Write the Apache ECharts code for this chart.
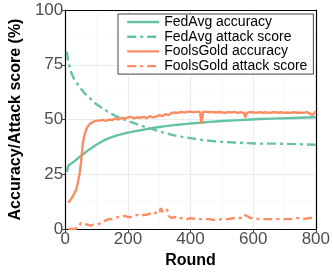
<!DOCTYPE html>
<html>
<head>
<meta charset="utf-8">
<script src="https://cdn.jsdelivr.net/npm/echarts@6/dist/echarts.min.js"></script>
<style>html,body{margin:0;padding:0;background:#fff;}#c{width:333px;height:274px;}</style>
</head>
<body>
<div id="c"></div>
<script>
var xTicks = [0, 200, 400, 600, 800];
var yTicks = [0, 25, 50, 75, 100];
var seriesNames = ['FedAvg accuracy', 'FedAvg attack score', 'FoolsGold accuracy', 'FoolsGold attack score'];

var fedAccRounds = [5, 10, 20, 30, 40, 50, 60, 70, 80, 90, 100, 120, 140, 160, 180, 200, 220, 240, 260, 280, 300, 320, 340, 360, 380, 400, 420, 440, 460, 480, 500, 540, 580, 620, 660, 700, 750, 800];
var fedAccValues = [26, 29, 30, 31, 32.3, 33.4, 34.5, 35.6, 36.6, 37.6, 38.6, 40.2, 41.5, 42.5, 43.3, 44, 44.6, 45.1, 45.6, 46.1, 46.6, 47, 47.3, 47.6, 47.9, 48.2, 48.4, 48.6, 48.9, 49.1, 49.3, 49.6, 49.9, 50.2, 50.4, 50.6, 50.8, 51];

var fedAtkRounds = [5, 10, 20, 30, 40, 50, 60, 70, 80, 90, 100, 120, 140, 160, 180, 200, 220, 240, 260, 280, 300, 320, 340, 360, 380, 400, 420, 440, 460, 480, 500, 540, 580, 620, 660, 700, 750, 800];
var fedAtkValues = [81, 76, 71, 68, 66, 64, 62.3, 60.8, 59.5, 58, 57, 55, 53.2, 51.7, 50.4, 49.3, 48.3, 47.3, 46.4, 45.5, 44.6, 43.8, 43, 42.4, 41.9, 41.5, 41, 40.6, 40.3, 40, 39.8, 39.5, 39.2, 39, 39, 38.9, 38.7, 38.5];

var fgAccRounds = [10, 20, 30, 35, 40, 46, 50, 56, 60, 66, 70, 80, 90, 100, 110, 120, 130, 140, 150, 160, 170, 180, 190, 200, 210, 220, 230, 240, 250, 260, 270, 280, 290, 300, 310, 320, 330, 340, 350, 360, 370, 380, 390, 400, 410, 420, 430, 435, 440, 450, 460, 470, 480, 490, 500, 510, 520, 530, 540, 550, 560, 570, 575, 580, 590, 600, 610, 620, 630, 640, 650, 660, 670, 680, 690, 700, 710, 720, 730, 740, 750, 760, 770, 780, 790, 800];
var fgAccValues = [12, 14, 16.5, 18, 21, 25.5, 30, 39, 42, 45, 46.5, 48.2, 49, 49.5, 49.5, 49.8, 49.4, 50, 49.7, 50.5, 50, 50.8, 50.4, 51, 51.2, 50.5, 51, 50.8, 51.2, 50.6, 51.5, 51, 51.3, 52, 51.5, 52.5, 52, 53, 53.2, 53, 53.5, 53.2, 53.5, 53.6, 53.3, 53.6, 53.4, 48, 53.5, 53.6, 53.3, 53.5, 53.2, 53.4, 53.3, 53, 53.4, 53.2, 53.5, 53, 53.3, 53, 51, 53, 53.4, 53.2, 53, 53.4, 53.1, 53.3, 53, 53.2, 53.4, 53.1, 53.3, 53, 53.2, 53, 53.4, 53.1, 53.2, 53, 53.4, 52.8, 52, 53.8];

var fgAtkRounds = [10, 20, 30, 40, 45, 50, 60, 70, 80, 90, 100, 110, 120, 130, 140, 150, 160, 170, 180, 190, 200, 210, 220, 230, 240, 250, 260, 270, 280, 290, 300, 305, 310, 320, 325, 330, 340, 350, 360, 370, 380, 390, 400, 420, 440, 460, 480, 500, 520, 540, 560, 570, 580, 590, 600, 620, 640, 660, 680, 700, 720, 740, 760, 780, 790, 800];
var fgAtkValues = [0, 0, 0, 0.5, 1.5, 2.8, 2.5, 2, 1.5, 2, 2, 2.5, 3, 4, 4.5, 4.5, 5, 5.5, 5.5, 6, 5.5, 5.5, 6, 6.5, 6, 6.5, 6.5, 7, 6.5, 7.5, 7, 9.5, 8, 8, 9, 6, 5, 5.5, 4.5, 5, 5, 4.5, 5, 4.5, 4.5, 4.5, 4, 4.5, 4.5, 5, 5, 6.5, 6, 5, 5, 4.5, 4.5, 4.5, 4.5, 4.5, 4.5, 5, 4.5, 5, 5, 5.5];

function pairs(xs, ys) { return xs.map(function (x, i) { return [x, ys[i]]; }); }

var green = '#66C2A5', orange = '#FC8D62';
var dash = [9, 4, 3, 4];
var font = '"Liberation Sans", Arial, sans-serif';

var chart = echarts.init(document.getElementById('c'), null, { renderer: 'canvas' });
chart.setOption({
  animation: false,
  backgroundColor: '#fff',
  grid: { left: 62, right: 14, top: 10, bottom: 45, containLabel: false },
  legend: {
    orient: 'vertical',
    left: 118, top: 14,
    padding: [1, 6, 1, 8],
    itemWidth: 32, itemHeight: 13, itemGap: 0.7, itemTextGap: 10,
    backgroundColor: '#fff',
    borderColor: '#444', borderWidth: 1,
    itemStyle: { color: 'rgba(0,0,0,0)', borderWidth: 0, opacity: 0 },
    lineStyle: { width: 2.4 },
    textStyle: { fontFamily: font, fontSize: 14, color: '#000' },
    data: seriesNames
  },
  xAxis: [{
    type: 'value', min: xTicks[0], max: xTicks[xTicks.length - 1], interval: 200,
    name: 'Round', nameLocation: 'middle', nameGap: 15,
    nameTextStyle: { fontFamily: font, fontSize: 16, fontWeight: 'bold', color: '#000' },
    axisLine: { show: true, onZero: false, lineStyle: { color: '#000', width: 1.2 } },
    axisTick: { show: true, length: 3, lineStyle: { color: '#333' } },
    axisLabel: { margin: 2, fontFamily: font, fontSize: 17, color: '#4D4D4D' },
    splitLine: { show: true, lineStyle: { color: '#EBEBEB', width: 1 } },
    minorTick: { show: false, splitNumber: 2 },
    minorSplitLine: { show: true, lineStyle: { color: '#F4F4F4', width: 0.6 } }
  }, {
    type: 'value', position: 'top', min: 0, max: 800,
    axisLine: { show: true, onZero: false, lineStyle: { color: '#000', width: 1.2 } },
    axisTick: { show: false }, axisLabel: { show: false }, splitLine: { show: false }
  }],
  yAxis: [{
    type: 'value', min: yTicks[0], max: yTicks[yTicks.length - 1], interval: 25,
    name: 'Accuracy/Attack score (%)', nameLocation: 'middle', nameGap: 28,
    nameTextStyle: { fontFamily: font, fontSize: 16, fontWeight: 'bold', color: '#000' },
    axisLine: { show: true, onZero: false, lineStyle: { color: '#000', width: 1.2 } },
    axisTick: { show: true, length: 3, lineStyle: { color: '#333' } },
    axisLabel: { margin: 2, fontFamily: font, fontSize: 17, color: '#4D4D4D' },
    splitLine: { show: true, lineStyle: { color: '#EBEBEB', width: 1 } },
    minorTick: { show: false, splitNumber: 2 },
    minorSplitLine: { show: true, lineStyle: { color: '#F4F4F4', width: 0.6 } }
  }, {
    type: 'value', position: 'right', min: 0, max: 100,
    axisLine: { show: true, onZero: false, lineStyle: { color: '#000', width: 1.2 } },
    axisTick: { show: false }, axisLabel: { show: false }, splitLine: { show: false }
  }],
  series: [
    { name: seriesNames[0], type: 'line', showSymbol: false, symbol: 'none', data: pairs(fedAccRounds, fedAccValues),
      lineStyle: { color: green, width: 2.4 }, itemStyle: { color: green } },
    { name: seriesNames[1], type: 'line', showSymbol: false, symbol: 'none', data: pairs(fedAtkRounds, fedAtkValues),
      lineStyle: { color: green, width: 2.4, type: dash }, itemStyle: { color: green } },
    { name: seriesNames[2], type: 'line', showSymbol: false, symbol: 'none', data: pairs(fgAccRounds, fgAccValues),
      lineStyle: { color: orange, width: 2.4 }, itemStyle: { color: orange } },
    { name: seriesNames[3], type: 'line', showSymbol: false, symbol: 'none', data: pairs(fgAtkRounds, fgAtkValues),
      lineStyle: { color: orange, width: 2.4, type: dash }, itemStyle: { color: orange } }
  ]
});
</script>
</body>
</html>
